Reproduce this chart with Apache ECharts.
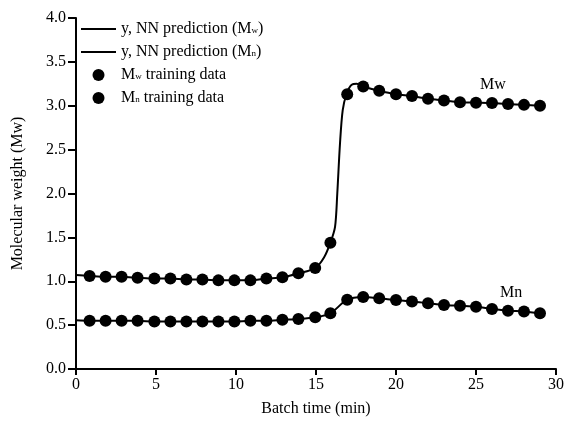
<!DOCTYPE html>
<html><head><meta charset="utf-8">
<script src="https://cdn.jsdelivr.net/npm/echarts@6/dist/echarts.min.js"></script>
<style>html,body{margin:0;padding:0;background:#fff}#c{width:568px;height:427px}</style>
</head><body><div id="c"></div>
<script>
// Training data (sample times in min)
const timeData = [0.85,1.85,2.85,3.85,4.9,5.9,6.9,7.9,8.9,9.9,10.9,11.9,12.9,13.9,14.95,15.9,16.95,17.95,18.95,20,21,22,23,24,25,26,27,28,29];
const mwData = [1.06,1.05,1.05,1.04,1.03,1.03,1.02,1.02,1.01,1.01,1.01,1.03,1.045,1.09,1.15,1.44,3.13,3.22,3.17,3.13,3.11,3.08,3.06,3.04,3.035,3.03,3.02,3.01,3.0];
const mnData = [0.55,0.55,0.55,0.55,0.54,0.54,0.54,0.54,0.54,0.54,0.55,0.55,0.56,0.57,0.59,0.635,0.79,0.82,0.805,0.785,0.77,0.75,0.73,0.72,0.71,0.685,0.665,0.655,0.635];
// NN prediction curves
const predMwTime = [0,0.85,1.85,2.85,3.85,4.9,5.9,6.9,7.9,8.9,9.9,10.9,11.9,12.9,13.9,14.95,15.5,15.9,16.19,16.33,16.5,16.67,16.92,17.23,17.54,17.95,18.95,20,21,22,23,24,25,26,27,28,29];
const predMw = [1.07,1.06,1.05,1.05,1.04,1.03,1.03,1.02,1.02,1.01,1.01,1.01,1.03,1.045,1.09,1.15,1.27,1.44,1.62,2.0,2.57,2.95,3.14,3.24,3.25,3.22,3.17,3.13,3.11,3.08,3.06,3.04,3.035,3.03,3.02,3.01,3.0];
const predMnTime = [0,0.85,1.85,2.85,3.85,4.9,5.9,6.9,7.9,8.9,9.9,10.9,11.9,12.9,13.9,14.95,15.9,16.95,17.95,18.95,20,21,22,23,24,25,26,27,28,29];
const predMn = [0.555,0.55,0.55,0.55,0.55,0.54,0.54,0.54,0.54,0.54,0.54,0.55,0.55,0.56,0.57,0.59,0.635,0.79,0.82,0.805,0.785,0.77,0.75,0.73,0.72,0.71,0.685,0.665,0.655,0.635];
const xTicks = [0,5,10,15,20,25,30];
const yTicks = [0,0.5,1,1.5,2,2.5,3,3.5,4];
const names = ['predMw','predMn','trainMw','trainMn'];
const legendText = {
  predMw: '{t|y, NN prediction (M}{s|w}{t|)}',
  predMn: '{t|y, NN prediction (M}{s|n}{t|)}',
  trainMw: '{t|M}{s|w}{t| training data}',
  trainMn: '{t|M}{s|n}{t| training data}'
};
const zip = (a,b) => a.map((v,i)=>[v,b[i]]);
const FONT = '"Liberation Serif","Times New Roman",serif';
const chart = echarts.init(document.getElementById('c'), null, {renderer:'canvas'});
chart.setOption({
  animation:false,
  backgroundColor:'#fff',
  textStyle:{fontFamily:FONT,color:'#000'},
  grid:{left:76,right:12,top:18,bottom:58},
  legend:{
    orient:'vertical', left:75, top:15, itemWidth:35, itemHeight:12, itemGap:6,
    data:[
      {name:'predMw', itemStyle:{opacity:0}},
      {name:'predMn', itemStyle:{opacity:0}},
      {name:'trainMw'},
      {name:'trainMn'}
    ],
    formatter: n => legendText[n],
    textStyle:{fontFamily:FONT,color:'#000',fontSize:16,lineHeight:12,
      rich:{t:{fontFamily:FONT,fontSize:16,color:'#000',lineHeight:12},s:{fontFamily:FONT,fontSize:9,color:'#000',lineHeight:12,verticalAlign:'bottom',padding:[6,0,0,0]}}}
  },
  xAxis:{type:'value',min:0,max:30,interval:5,
    name:'Batch time (min)',nameLocation:'middle',nameGap:32,
    nameTextStyle:{fontFamily:FONT,fontSize:16,color:'#000'},
    axisLine:{lineStyle:{color:'#000',width:2}},
    axisTick:{inside:false,length:6,lineStyle:{color:'#000',width:2}},
    axisLabel:{fontFamily:FONT,fontSize:16,color:'#000',margin:8},
    splitLine:{show:false}},
  yAxis:{type:'value',min:0,max:4,interval:0.5,
    name:'Molecular weight (Mw)',nameLocation:'middle',nameGap:50,
    nameTextStyle:{fontFamily:FONT,fontSize:16,color:'#000'},
    axisLine:{show:true,lineStyle:{color:'#000',width:2}},
    axisTick:{show:true,inside:false,length:8,lineStyle:{color:'#000',width:2}},
    axisLabel:{fontFamily:FONT,fontSize:16,color:'#000',margin:10,formatter:v=>v.toFixed(1)},
    splitLine:{show:false}},
  graphic:[
    {type:'text',left:480,top:77,style:{text:'Mw',font:'16px '+FONT,fill:'#000'}},
    {type:'text',left:500,top:285,style:{text:'Mn',font:'16px '+FONT,fill:'#000'}}
  ],
  series:[
    {name:'predMw',type:'line',data:zip(predMwTime,predMw),symbol:'none',smooth:0.3,lineStyle:{color:'#000',width:2,opacity:1},itemStyle:{color:'#000'},z:2},
    {name:'predMn',type:'line',data:zip(predMnTime,predMn),symbol:'none',smooth:0.3,lineStyle:{color:'#000',width:2,opacity:1},itemStyle:{color:'#000'},z:2},
    {name:'trainMw',type:'scatter',data:zip(timeData,mwData),symbol:'circle',symbolSize:12,itemStyle:{color:'#000',opacity:1},z:3},
    {name:'trainMn',type:'scatter',data:zip(timeData,mnData),symbol:'circle',symbolSize:12,itemStyle:{color:'#000',opacity:1},z:3}
  ]
});
</script></body></html>
